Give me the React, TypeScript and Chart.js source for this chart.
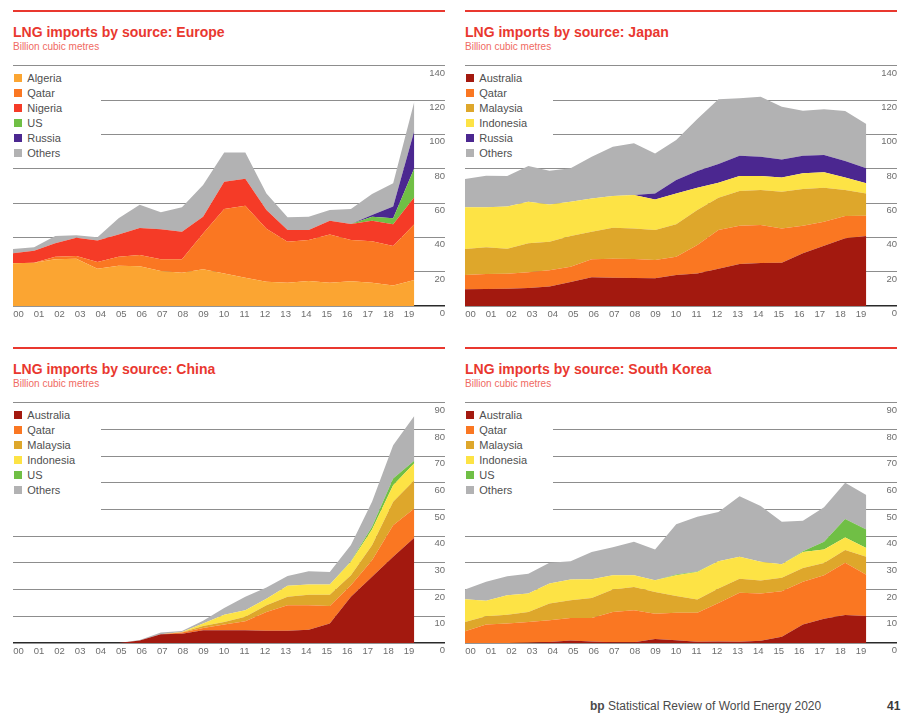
import React, { useEffect, useRef } from 'react';
import { Chart, registerables } from 'chart.js';

Chart.register(...registerables);

const FONT = "'Liberation Sans', Arial, Helvetica, sans-serif";
Chart.defaults.font.family = FONT;

// ---- Data (billion cubic metres) ----
const years = ['00', '01', '02', '03', '04', '05', '06', '07', '08', '09', '10', '11', '12', '13', '14', '15', '16', '17', '18', '19'];

const europeAlgeria = [24.9, 25.2, 27.2, 27.6, 21.7, 23.5, 23.1, 20.4, 19.4, 21.4, 19.0, 16.5, 14.2, 13.6, 14.6, 13.6, 14.4, 13.6, 12.0, 15.1];
const europeQatar = [0, 0, 1.5, 1.5, 3.9, 5.2, 6.6, 6.8, 7.8, 20.9, 37.5, 41.9, 30.8, 23.9, 23.8, 28.1, 24.0, 24.1, 23.0, 32.5];
const europeNigeria = [5.8, 7.0, 7.8, 10.7, 12.5, 13.0, 15.7, 17.5, 16.1, 9.7, 15.9, 15.8, 10.9, 6.8, 5.9, 8.0, 9.4, 12.0, 12.6, 15.7];
const europeUS = [0, 0, 0, 0, 0, 0, 0, 0, 0, 0, 0, 0, 0, 0, 0, 0, 0, 2.3, 3.5, 16.9];
const europeRussia = [0, 0, 0, 0, 0, 0, 0, 0, 0, 0, 0, 0, 0, 0, 0, 0, 0, 1.0, 6.8, 21.7];
const europeOthers = [2.5, 2.0, 4.3, 1.4, 1.9, 9.4, 13.6, 9.9, 14.2, 18.5, 17.1, 15.3, 9.7, 7.4, 7.7, 6.2, 8.7, 12.2, 13.6, 17.1];

const japanAustralia = [9.7, 9.9, 10.1, 10.5, 11.3, 14.0, 16.7, 16.5, 16.3, 16.1, 18.1, 19.0, 21.7, 24.5, 25.0, 25.2, 30.7, 35.1, 39.4, 40.8];
const japanQatar = [8.4, 8.7, 8.7, 9.1, 9.5, 8.9, 10.5, 11.1, 11.1, 10.7, 10.6, 16.5, 22.6, 22.3, 22.2, 20.0, 16.1, 14.0, 13.0, 11.8];
const japanMalaysia = [15.1, 15.6, 14.6, 16.9, 16.7, 17.9, 16.1, 18.0, 17.8, 17.5, 18.9, 20.4, 18.8, 20.2, 20.4, 21.4, 21.4, 19.8, 15.2, 13.0];
const japanIndonesia = [24.3, 23.3, 24.5, 24.3, 21.7, 20.0, 19.4, 18.5, 19.5, 17.8, 18.0, 13.0, 8.7, 8.7, 8.1, 8.2, 9.1, 9.0, 7.2, 5.9];
const japanRussia = [0, 0, 0, 0, 0, 0, 0, 0, 0, 3.5, 7.8, 9.7, 10.9, 11.9, 11.3, 10.6, 10.3, 10.1, 9.7, 8.7];
const japanOthers = [16.5, 18.4, 17.8, 20.8, 19.6, 19.4, 24.3, 28.7, 30.1, 23.3, 23.3, 30.3, 37.7, 33.4, 34.9, 30.7, 26.2, 26.6, 29.1, 25.8];

const chinaAustralia = [0, 0, 0, 0, 0, 0, 0.9, 3.3, 3.5, 4.8, 4.8, 4.8, 4.6, 4.6, 5.0, 7.3, 17.3, 24.8, 32.3, 39.4];
const chinaQatar = [0, 0, 0, 0, 0, 0, 0, 0, 0.4, 0.8, 2.1, 3.3, 7.0, 9.5, 9.1, 6.6, 4.3, 6.2, 11.8, 11.0];
const chinaMalaysia = [0, 0, 0, 0, 0, 0, 0, 0, 0.1, 0.8, 1.0, 1.7, 2.5, 3.2, 4.0, 4.2, 3.8, 5.6, 8.8, 10.6];
const chinaIndonesia = [0, 0, 0, 0, 0, 0, 0, 0, 0.1, 0.9, 2.7, 2.5, 2.5, 4.1, 3.8, 3.8, 5.0, 5.9, 6.2, 6.3];
const chinaUS = [0, 0, 0, 0, 0, 0, 0, 0, 0, 0, 0, 0, 0, 0, 0, 0, 0.2, 1.0, 2.5, 1.0];
const chinaOthers = [0, 0, 0, 0, 0, 0, 0.2, 0.6, 0.4, 1.0, 2.5, 5.0, 4.2, 3.7, 5.0, 4.7, 6.1, 9.4, 12.5, 16.7];

const koreaAustralia = [0, 0, 0, 0.1, 0.4, 0.9, 0.6, 0.3, 0.3, 1.5, 1.0, 0.5, 0.6, 0.5, 0.8, 2.3, 6.9, 9.1, 10.5, 10.1];
const koreaQatar = [4.4, 6.9, 7.3, 7.8, 8.1, 8.5, 8.8, 11.3, 12.0, 9.5, 10.3, 10.8, 14.4, 18.3, 17.7, 17.1, 16.0, 16.3, 19.6, 15.5];
const koreaMalaysia = [3.5, 3.1, 3.3, 3.7, 6.3, 6.6, 7.5, 8.4, 8.7, 8.1, 6.3, 5.0, 5.4, 5.3, 4.9, 5.0, 5.2, 4.6, 4.7, 6.7];
const koreaIndonesia = [8.5, 5.8, 7.3, 6.9, 7.5, 7.8, 7.0, 5.4, 4.4, 4.4, 7.8, 10.3, 10.2, 8.2, 7.0, 5.1, 6.0, 5.0, 4.7, 3.3];
const koreaUS = [0, 0, 0, 0, 0, 0, 0, 0, 0, 0, 0.3, 0.2, 0, 0, 0, 0, 0.3, 2.9, 6.9, 6.9];
const koreaOthers = [3.6, 7.1, 7.1, 7.4, 7.8, 6.8, 10.2, 10.5, 12.5, 11.5, 18.8, 20.5, 18.5, 22.7, 20.9, 15.9, 11.4, 12.9, 13.6, 12.9];

// ---- Palette ----
const COL = {
  algeria: '#fba532',
  qatar: '#fa7722',
  nigeria: '#f53b27',
  us: '#70bf45',
  russia: '#4b2790',
  others: '#b2b2b3',
  australia: '#a3190f',
  malaysia: '#dea72b',
  indonesia: '#fde345',
};
const RED = '#e9382f';
const SUBRED = '#f06a62';
const TICK_GREY = '#6e6e6e';
const LEGEND_TEXT = '#4f4f4f';

// ---- Geometry ----
const PANEL_W = 432;
const CANVAS_H = 266;
const PAD_TOP = 5.7;
const DATA_STEP = 21.12; // px between yearly points
const LABEL_START = 5.5; // px from plot left to centre of the first year label
const LABEL_STEP = 20.55; // px between year labels

type Series = { label: string; color: string; values: number[] };

type PanelProps = {
  x: number;
  y: number;
  title: string;
  yMax: number;
  yStep: number;
  series: Series[];
  legendBoxH: number;
};

function zeroPadding(s: any) {
  s.paddingTop = 0;
  s.paddingBottom = 0;
  s.paddingLeft = 0;
  s.paddingRight = 0;
}

function AreaPanel({ x, y, title, yMax, yStep, series, legendBoxH }: PanelProps) {
  const ref = useRef<HTMLCanvasElement>(null);

  useEffect(() => {
    const chart = new Chart(ref.current as HTMLCanvasElement, {
      type: 'line',
      data: {
        datasets: series.map((s, i) => ({
          label: s.label,
          data: s.values.map((v, j) => ({ x: j, y: v })),
          xAxisID: 'x',
          yAxisID: 'y',
          backgroundColor: s.color,
          borderColor: s.color,
          borderWidth: 0,
          pointRadius: 0,
          tension: 0,
          fill: i === 0 ? 'origin' : '-1',
        })),
      },
      options: {
        animation: false,
        responsive: false,
        maintainAspectRatio: false,
        events: [],
        layout: { padding: { top: PAD_TOP, left: 0, right: 0, bottom: 0 } },
        plugins: { legend: { display: false }, tooltip: { enabled: false }, title: { display: false } },
        scales: {
          x: {
            type: 'linear',
            min: 0,
            max: PANEL_W / DATA_STEP,
            display: false,
          },
          xl: {
            type: 'linear',
            position: 'bottom',
            min: -LABEL_START / LABEL_STEP,
            max: (PANEL_W - LABEL_START) / LABEL_STEP,
            grid: { display: false, drawTicks: false },
            border: { display: false },
            afterBuildTicks: (s: any) => {
              s.ticks = years.map((_, i) => ({ value: i }));
            },
            afterFit: (s: any) => {
              s.height = 20;
              zeroPadding(s);
            },
            ticks: {
              autoSkip: false,
              maxRotation: 0,
              padding: 3,
              color: TICK_GREY,
              font: { size: 9.5 },
              callback: (v: any) => years[Math.round(Number(v))],
            },
          },
          y: {
            type: 'linear',
            position: 'right',
            stacked: true,
            min: 0,
            max: yMax,
            border: { display: false },
            grid: {
              drawTicks: false,
              color: (c: any) => (c.tick && c.tick.value === 0 ? '#2a2a2a' : '#8d8d8d'),
              lineWidth: (c: any) => (c.tick && c.tick.value === 0 ? 1.5 : 1),
            },
            afterFit: (s: any) => {
              s.width = 0;
              zeroPadding(s);
            },
            ticks: {
              stepSize: yStep,
              mirror: true,
              padding: 0,
              labelOffset: 7.5,
              color: TICK_GREY,
              font: { size: 9.5 },
            },
          },
        },
      } as any,
    });
    return () => chart.destroy();
  }, []);

  const gridTop = y + 54.7;
  const rowBase0 = gridTop + 16.6;

  return (
    <>
      <div style={{ position: 'absolute', left: x, top: y - 0.8, width: PANEL_W, height: 1.6, background: RED }} />
      <div
        style={{
          position: 'absolute', left: x, top: y + 26.3 - 11.85, fontFamily: FONT, fontWeight: 'bold',
          fontSize: 14, lineHeight: '14px', color: RED, whiteSpace: 'nowrap',
        }}
      >
        {title}
      </div>
      <div
        style={{
          position: 'absolute', left: x, top: y + 39 - 8.47, fontFamily: FONT,
          fontSize: 10, lineHeight: '10px', color: SUBRED, whiteSpace: 'nowrap',
        }}
      >
        Billion cubic metres
      </div>
      <canvas
        ref={ref}
        width={PANEL_W}
        height={CANVAS_H}
        style={{ position: 'absolute', left: x, top: gridTop - PAD_TOP, width: PANEL_W, height: CANVAS_H }}
      />
      <div style={{ position: 'absolute', left: x, top: gridTop + 2, width: 88, height: legendBoxH, background: '#fff' }}>
        {series.map((s, i) => {
          const base = rowBase0 + i * 15 - (gridTop + 2);
          return (
            <React.Fragment key={s.label}>
              <div style={{ position: 'absolute', left: 1, top: base - 8.3, width: 8, height: 8, background: s.color }} />
              <div
                style={{
                  position: 'absolute', left: 14.3, top: base - 0.8465 * 11, fontFamily: FONT,
                  fontSize: 11, lineHeight: '11px', color: LEGEND_TEXT, whiteSpace: 'nowrap',
                }}
              >
                {s.label}
              </div>
            </React.Fragment>
          );
        })}
      </div>
    </>
  );
}

const europeSeries: Series[] = [
  { label: 'Algeria', color: COL.algeria, values: europeAlgeria },
  { label: 'Qatar', color: COL.qatar, values: europeQatar },
  { label: 'Nigeria', color: COL.nigeria, values: europeNigeria },
  { label: 'US', color: COL.us, values: europeUS },
  { label: 'Russia', color: COL.russia, values: europeRussia },
  { label: 'Others', color: COL.others, values: europeOthers },
];

const japanSeries: Series[] = [
  { label: 'Australia', color: COL.australia, values: japanAustralia },
  { label: 'Qatar', color: COL.qatar, values: japanQatar },
  { label: 'Malaysia', color: COL.malaysia, values: japanMalaysia },
  { label: 'Indonesia', color: COL.indonesia, values: japanIndonesia },
  { label: 'Russia', color: COL.russia, values: japanRussia },
  { label: 'Others', color: COL.others, values: japanOthers },
];

const chinaSeries: Series[] = [
  { label: 'Australia', color: COL.australia, values: chinaAustralia },
  { label: 'Qatar', color: COL.qatar, values: chinaQatar },
  { label: 'Malaysia', color: COL.malaysia, values: chinaMalaysia },
  { label: 'Indonesia', color: COL.indonesia, values: chinaIndonesia },
  { label: 'US', color: COL.us, values: chinaUS },
  { label: 'Others', color: COL.others, values: chinaOthers },
];

const koreaSeries: Series[] = [
  { label: 'Australia', color: COL.australia, values: koreaAustralia },
  { label: 'Qatar', color: COL.qatar, values: koreaQatar },
  { label: 'Malaysia', color: COL.malaysia, values: koreaMalaysia },
  { label: 'Indonesia', color: COL.indonesia, values: koreaIndonesia },
  { label: 'US', color: COL.us, values: koreaUS },
  { label: 'Others', color: COL.others, values: koreaOthers },
];

export default function App() {
  return (
    <div style={{ position: 'absolute', left: 0, top: 0, width: 905, height: 719, background: '#fff', overflow: 'hidden' }}>
      <AreaPanel x={13} y={11} title="LNG imports by source: Europe" yMax={140} yStep={20} series={europeSeries} legendBoxH={96} />
      <AreaPanel x={465} y={11} title="LNG imports by source: Japan" yMax={140} yStep={20} series={japanSeries} legendBoxH={96} />
      <AreaPanel x={13} y={348} title="LNG imports by source: China" yMax={90} yStep={10} series={chinaSeries} legendBoxH={116} />
      <AreaPanel x={465} y={348} title="LNG imports by source: South Korea" yMax={90} yStep={10} series={koreaSeries} legendBoxH={116} />
      <div
        style={{
          position: 'absolute', left: 590, top: 710 - 0.8465 * 12, fontFamily: FONT, fontSize: 12,
          lineHeight: '12px', color: '#4a4a4a', whiteSpace: 'nowrap',
        }}
      >
        <b>bp</b> Statistical Review of World Energy 2020
      </div>
      <div
        style={{
          position: 'absolute', left: 887, top: 710 - 0.8465 * 12, fontFamily: FONT, fontSize: 12,
          lineHeight: '12px', fontWeight: 'bold', color: '#3a3a3a', whiteSpace: 'nowrap',
        }}
      >
        41
      </div>
    </div>
  );
}
